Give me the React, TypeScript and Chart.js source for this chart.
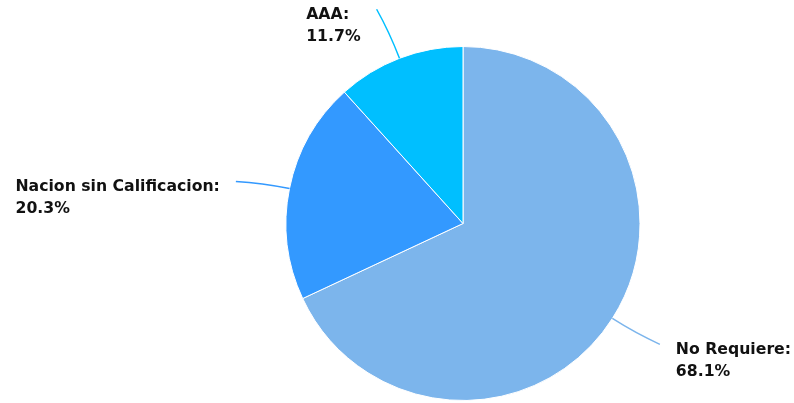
import React, { useEffect, useRef } from "react";
import { Chart, registerables } from "chart.js";

Chart.register(...registerables);

const categories = ["No Requiere", "Nacion sin Calificacion", "AAA"];
const values = [68.1, 20.3, 11.7];
const colors = ["#7CB5EC", "#3399FF", "#00BFFF"];

const labelPlugin = {
  id: "outsideLabels",
  afterDatasetsDraw(chart: any) {
    const ctx = chart.ctx;
    const meta = chart.getDatasetMeta(0);
    ctx.save();
    meta.data.forEach((arc: any, i: number) => {
      const { x, y, startAngle, endAngle, outerRadius } = arc.getProps(
        ["x", "y", "startAngle", "endAngle", "outerRadius"],
        true
      );
      const mid = (startAngle + endAngle) / 2;
      const sx = x + Math.cos(mid) * outerRadius;
      const sy = y + Math.sin(mid) * outerRadius;
      const cpx = x + Math.cos(mid) * (outerRadius + 28);
      const cpy = y + Math.sin(mid) * (outerRadius + 28);
      const endA = mid - 0.016;
      const ex = x + Math.cos(endA) * (outerRadius + 54);
      const ey = y + Math.sin(endA) * (outerRadius + 54);
      ctx.strokeStyle = colors[i];
      ctx.lineWidth = 1.5;
      ctx.beginPath();
      ctx.moveTo(sx, sy);
      ctx.quadraticCurveTo(cpx, cpy, ex, ey);
      ctx.stroke();

      const lines = [categories[i] + ":", values[i].toFixed(1) + "%"];
      ctx.font = "bold 15.7px 'DejaVu Sans'";
      ctx.fillStyle = "#111111";
      ctx.textAlign = "left";
      ctx.textBaseline = "alphabetic";
      const w = Math.max(...lines.map((l) => ctx.measureText(l).width));
      const left = ex < x ? ex - 16 - w : ex + 16;
      ctx.fillText(lines[0], left, ey + 9.5);
      ctx.fillText(lines[1], left, ey + 31.5);
    });
    ctx.restore();
  },
};

export default function App() {
  const ref = useRef<HTMLCanvasElement>(null);
  useEffect(() => {
    if (!ref.current) return;
    const chart = new Chart(ref.current, {
      type: "pie",
      data: {
        labels: categories,
        datasets: [
          {
            data: values,
            backgroundColor: colors,
            borderColor: "#ffffff",
            borderWidth: 1,
            hoverOffset: 0,
          },
        ],
      },
      options: {
        responsive: false,
        animation: false,
        radius: 177,
        layout: { padding: { top: 46, bottom: 2, left: 200, right: 68 } },
        plugins: {
          legend: { display: false },
          tooltip: { enabled: false },
        },
      } as any,
      plugins: [labelPlugin],
    });
    return () => chart.destroy();
  }, []);
  return (
    <div style={{ position: "absolute", left: 0, top: 0, width: 794, height: 403, background: "#fff" }}>
      <canvas ref={ref} width={794} height={403} />
    </div>
  );
}
